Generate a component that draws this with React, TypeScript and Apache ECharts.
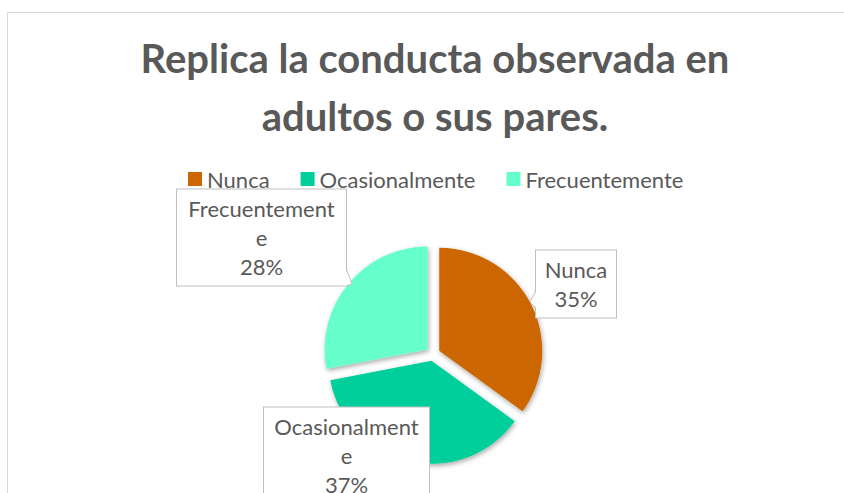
import React, { useEffect, useRef } from "react";
import * as echarts from "echarts";

const titleLines = ["Replica la conducta observada en", "adultos o sus pares."];
const categories = ["Nunca", "Ocasionalmente", "Frecuentemente"];
const values = [35, 37, 28];
const colors = ["#CC6600", "#00CF9C", "#66FFCC"];

const FONT = "Lato";
const TEXT = "#595959";
const BORDER = "#bfbfbf";

// callout boxes (layout only): centre x, centre y, content width
const boxes = [
  { cx: 576, cy: 284, w: 60 },
  { cx: 346.5, cy: 455.5, w: 145 },
  { cx: 261.5, cy: 237.5, w: 149 },
];
// callout pointers (layout only): base start, tip, base end
const pointers: (number[][] | null)[] = [
  [[536, 290], [530, 302], [536, 308]],
  null,
  [[346, 268], [352, 284], [346, 286]],
];

function wrapName(name: string): string {
  const max = 13;
  if (name.length <= max) return name;
  return name.slice(0, max) + "\n" + name.slice(max);
}

export default function App() {
  const ref = useRef<HTMLDivElement>(null);
  useEffect(() => {
    if (!ref.current) return;
    const chart = echarts.init(ref.current, undefined, { renderer: "svg" });
    const total = values.reduce((a, b) => a + b, 0);

    const labelGraphics: any[] = [];
    categories.forEach((name, i) => {
      const b = boxes[i];
      const pct = Math.round((values[i] / total) * 100);
      labelGraphics.push({
        type: "text",
        z: 100,
        x: b.cx,
        y: b.cy,
        style: {
          text: wrapName(name) + "\n" + pct + "%",
          fontFamily: FONT,
          fontSize: 22,
          lineHeight: 29,
          fill: TEXT,
          align: "center",
          verticalAlign: "middle",
          width: b.w,
          backgroundColor: "#ffffff",
          borderColor: BORDER,
          borderWidth: 1,
          padding: [4, 10, 5, 10],
        },
      });
      const p = pointers[i];
      if (p) {
        const inward = p[0][0] > p[1][0] ? 1 : -1;
        labelGraphics.push({
          type: "polygon",
          z: 101,
          shape: {
            points: [
              [p[0][0] + inward, p[0][1]],
              p[1],
              [p[2][0] + inward, p[2][1]],
            ],
          },
          style: { fill: "#ffffff", stroke: "none" },
        });
        labelGraphics.push({
          type: "polyline",
          z: 102,
          shape: { points: p },
          style: { stroke: BORDER, lineWidth: 1, fill: "none" },
        });
      }
    });

    chart.setOption({
      animation: false,
      backgroundColor: "#ffffff",
      title: {
        text: titleLines.join("\n"),
        left: 430,
        top: 24,
        textAlign: "center",
        textStyle: {
          fontFamily: FONT,
          fontWeight: "bold",
          fontSize: 40,
          lineHeight: 58,
          color: TEXT,
        },
      },
      legend: {
        data: categories,
        left: 188,
        top: 168,
        padding: 0,
        icon: "rect",
        itemWidth: 14,
        itemHeight: 14,
        itemGap: 31,
        textStyle: {
          fontFamily: FONT,
          fontSize: 22,
          lineHeight: 22,
          color: TEXT,
          padding: [0, 0, 0, 0],
        },
      },
      graphic: [
        {
          type: "rect",
          shape: { x: 7.5, y: 12.5, width: 1000, height: 1000 },
          style: { fill: "none", stroke: "#d9d9d9", lineWidth: 1 },
          silent: true,
          z: -10,
        },
        ...labelGraphics,
      ],
      series: [
        {
          type: "pie",
          center: [433, 354],
          radius: [0, 103],
          startAngle: 90,
          clockwise: true,
          selectedMode: "multiple",
          selectedOffset: 7,
          emphasis: { disabled: true },
          itemStyle: {
            shadowBlur: 5,
            shadowColor: "rgba(0,0,0,0.35)",
            shadowOffsetX: 1,
            shadowOffsetY: 2,
          },
          label: { show: false },
          labelLine: { show: false },
          data: categories.map((name, i) => ({
            name,
            value: values[i],
            selected: true,
            itemStyle: { color: colors[i] },
          })),
        },
      ],
    });
    return () => chart.dispose();
  }, []);
  return (
    <div
      ref={ref}
      style={{ position: "fixed", left: 0, top: 0, width: 844, height: 493 }}
    />
  );
}
